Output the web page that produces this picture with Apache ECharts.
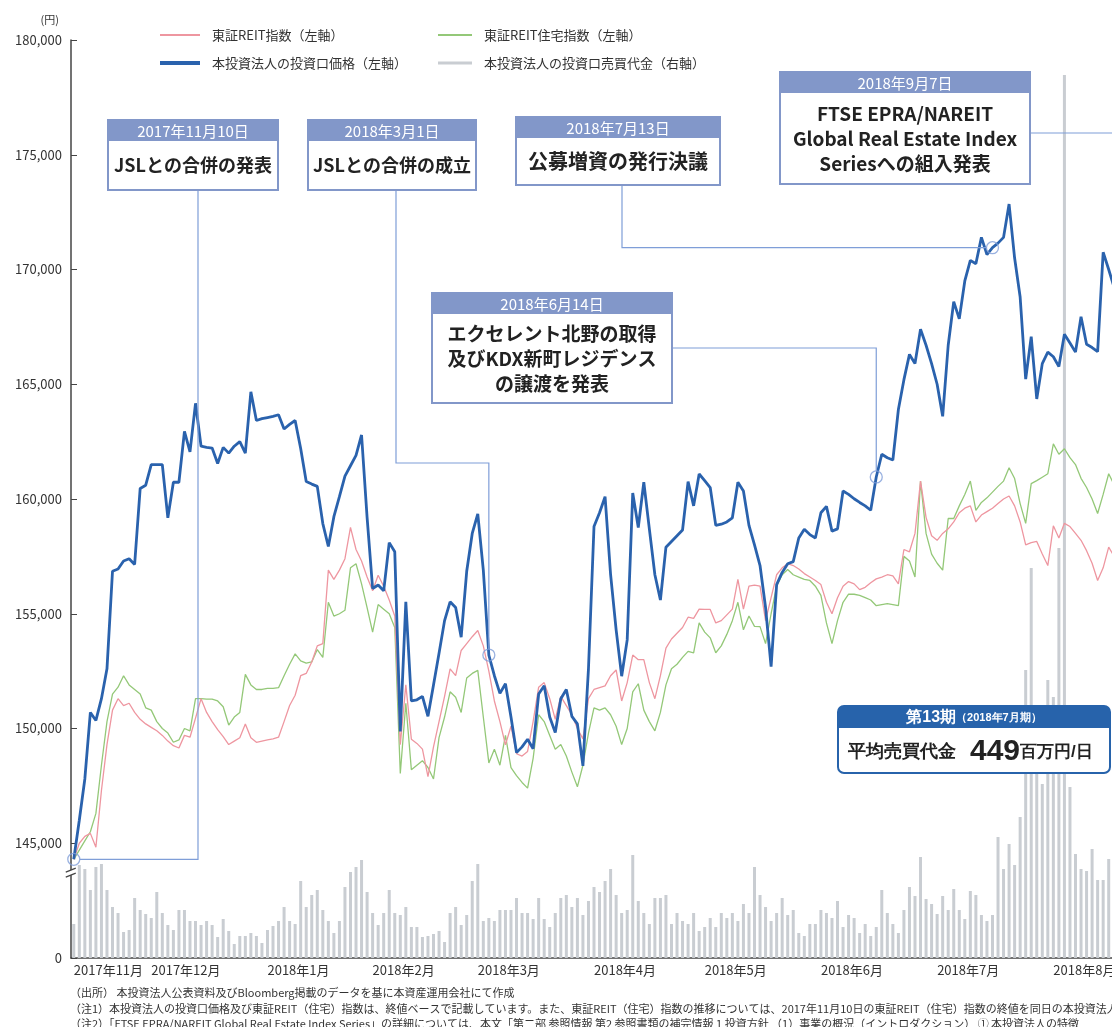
<!DOCTYPE html>
<html>
<head>
<meta charset="utf-8">
<script src="https://cdn.jsdelivr.net/npm/echarts@6/dist/echarts.min.js"></script>
<style>
  html, body { margin: 0; padding: 0; background: #fff; }
  #chart { width: 1112px; height: 1027px; }
</style>
</head>
<body>
<div id="chart"></div>
<script>
const FONT = "'Noto Sans CJK JP', 'Noto Sans', sans-serif";

// 営業日（2017/11/10〜2018/8/16）
const START = '2017-11-10';
const END = '2018-08-16';
const HOLIDAYS = ['2017-11-23', '2018-01-01', '2018-01-02', '2018-01-03', '2018-01-08',
  '2018-02-12', '2018-03-21', '2018-04-30', '2018-05-03', '2018-05-04', '2018-07-16'];

// 本投資法人の投資口価格（円）
const price = [
  144300, 146000, 147800, 150700, 150350, 151300, 152600, 156850, 156950, 157300,
  157400, 157150, 160460, 160600, 161500, 161500, 161500, 159180, 160730, 160730,
  162950, 162050, 164170, 162300, 162250, 162220, 161550, 162250, 162000, 162300,
  162500, 162000, 164670, 163420, 163500, 163550, 163600, 163670, 163050, 163250,
  163420, 162200, 160760, 160650, 160550, 158930, 157930, 159230, 160100, 161000,
  161450, 161900, 162790, 159200, 156100, 156250, 156000, 158100, 157700, 149870,
  155520, 151200, 151250, 151400, 150530, 151900, 153280, 154700, 155520, 155270,
  153980, 156850, 158500, 159350, 156900, 153200, 152300, 151530, 151950, 150500,
  148950, 149200, 149530, 149120, 151500, 151860, 150500, 149820, 151300, 151700,
  150530, 150200, 148370, 152600, 158800, 159400, 160100, 156700, 154300, 152280,
  153860, 160260, 158760, 160730, 158700, 156700, 155600, 157900, 158150, 158400,
  158650, 160760, 159700, 161090, 160800, 160500, 158850, 158900, 159000, 159180,
  160730, 160350, 158850, 158000, 157100, 155270, 152700, 156270, 156800, 157180,
  157270, 158300, 158680, 158450, 158300, 159400, 159680, 158600, 158700, 160350,
  160200, 160010, 159850, 159700, 159510, 160960, 161950, 161800, 161700, 163900,
  165200, 166300, 165900, 167400, 166700, 165900, 165000, 163600, 166700, 168600,
  167850, 169500, 170400, 170250, 171400, 170650, 170950, 171150, 171400, 172850,
  170500, 168800, 165225, 167070, 164360, 165900, 166400, 166200, 165770, 167180,
  166800, 166400, 167940, 166740, 166600, 166420, 170750, 170000, 169200
];

// 東証REIT指数（指数化）
const reit = [
  144300, 145000, 145300, 145430, 144830, 147300, 149300, 150800, 151300, 151000,
  151100, 150700, 150400, 150200, 150050, 149900, 149700, 149450, 149250, 149150,
  149700, 149620, 150450, 151300, 150700, 150300, 149950, 149650, 149300, 149450,
  149600, 150200, 149600, 149400, 149450, 149500, 149550, 149620, 150300, 151000,
  151450, 152300, 152400, 152900, 153600, 153700, 156900, 156500, 156900, 157400,
  158760, 157800, 157300, 156600, 156000, 156680, 156200, 155600, 154900, 149300,
  151900, 149530, 149350, 149100, 147900, 149200, 150300, 151400, 152600, 152300,
  153400, 153700, 154000, 154270, 153600, 152500, 151200, 150300, 149285, 150100,
  148900, 148800, 149000, 150300, 151800, 152000, 151300, 150400, 151400, 151000,
  150600, 150000, 149550, 151300, 151700, 151780, 151860, 152300, 152550, 151200,
  152000, 153200, 153000, 153000, 152000, 151300, 152300, 153500, 153900, 154150,
  154400, 154850, 154800, 155200, 155190, 155190, 154600, 154700, 154950, 155200,
  156500, 155200, 156200, 156250, 156200, 154700, 155700, 156700, 157000, 157180,
  157100, 156950, 156750, 156600, 156450, 156270, 155500, 155000, 155700, 156200,
  156400, 156300, 156050, 156150, 156350, 156520, 156600, 156700, 156650, 156300,
  157800, 157700, 158500, 160780, 159200, 158400, 158200, 158500, 158700, 159000,
  159400, 159600, 159700, 159000, 159300, 159450, 159600, 159800, 160000, 160130,
  159700, 159000, 158000, 158100, 158150, 157600, 157100, 158830, 158300, 158940,
  158800, 158500, 158200, 157750, 157200, 156450, 157000, 157900, 157500
];

// 東証REIT住宅指数（指数化）
const resi = [
  144300, 144700, 145100, 145500, 146300, 148400, 150300, 151500, 151800, 152300,
  151900, 151700, 151500, 150900, 150800, 150300, 150000, 149800, 149400, 149500,
  150000, 149900, 151300, 151300, 151280, 151280, 151200, 150950, 150150, 150500,
  150700, 152360, 151900, 151700, 151700, 151750, 151750, 151780, 152300, 152800,
  153250, 152950, 152850, 152900, 153440, 153100, 155500, 154900, 155000, 155150,
  157000, 157180, 156300, 155270, 154200, 155400, 155200, 155000, 154400, 148040,
  151100, 148200, 148400, 148600, 148300, 147800, 149600, 150500, 151600, 151360,
  150700, 152200, 152400, 152530, 150500, 148500, 149100, 148400, 149700, 148300,
  147950, 147650, 147400, 148700, 150600, 150300, 149700, 149100, 149300, 148800,
  148100, 147460, 148400, 149800, 150900, 150800, 150900, 150600, 150100, 149300,
  150000, 151600, 151950, 150800, 150300, 149900, 150700, 151900, 152600, 152800,
  153100, 153360, 153300, 154600, 154200, 153950, 153300, 153600, 154100, 154700,
  155500, 154300, 154900, 154450, 154440, 153700, 155000, 156200, 156700, 156930,
  156700, 156600, 156500, 156450, 156200, 155800, 154600, 153700, 154700, 155500,
  155850, 155850, 155800, 155700, 155600, 155350, 155400, 155440, 155400, 155350,
  157500, 157300, 156600, 160780, 158500, 157600, 157200, 156900, 159150, 159150,
  159700, 160200, 160780, 159500, 159850, 160050, 160300, 160550, 160780, 161360,
  160890, 159800, 158940, 160670, 160800, 160950, 161100, 162400, 161950, 162190,
  161800, 161500, 160900, 160500, 160000, 159370, 160200, 161100, 160600
];

// 本投資法人の投資口売買代金（百万円）
const volume = [
  272, 744, 712, 544, 728, 752, 544, 408, 360, 208,
  224, 480, 384, 352, 320, 528, 360, 264, 224, 384,
  384, 296, 296, 264, 296, 264, 168, 312, 216, 112,
  176, 176, 200, 176, 120, 224, 256, 296, 408, 296,
  272, 616, 408, 504, 544, 384, 296, 200, 296, 568,
  688, 728, 784, 528, 360, 264, 360, 544, 360, 344,
  408, 248, 248, 168, 176, 192, 216, 128, 360, 408,
  264, 344, 616, 752, 296, 320, 296, 384, 384, 384,
  480, 360, 360, 312, 480, 312, 248, 360, 480, 504,
  408, 480, 344, 456, 568, 528, 616, 712, 504, 360,
  384, 824, 456, 360, 272, 480, 480, 504, 272, 360,
  296, 272, 360, 216, 248, 320, 248, 360, 320, 360,
  296, 432, 360, 728, 504, 408, 296, 360, 480, 344,
  384, 200, 176, 272, 272, 384, 360, 320, 456, 248,
  344, 320, 200, 272, 176, 248, 544, 360, 272, 200,
  384, 568, 496, 808, 472, 432, 352, 496, 384, 552,
  384, 312, 536, 504, 344, 296, 344, 968, 712, 912,
  744, 1128, 2304, 3120, 2008, 1392, 2224, 2088, 3280, 7064,
  1368, 832, 712, 696, 872, 624, 624, 792, 792
];

// イベント（営業日インデックス）
const eventIdx = [0, 75, 145, 166];

const NAME_REIT = '東証REIT指数（左軸）';
const NAME_RESI = '東証REIT住宅指数（左軸）';
const NAME_PRICE = '本投資法人の投資口価格（左軸）';
const NAME_VOL = '本投資法人の投資口売買代金（右軸）';

function tradingDays() {
  const out = [];
  const d = new Date(START + 'T00:00:00Z');
  const end = new Date(END + 'T00:00:00Z');
  while (d <= end) {
    const iso = d.toISOString().slice(0, 10);
    const wd = d.getUTCDay();
    if (wd !== 0 && wd !== 6 && !HOLIDAYS.includes(iso)) {
      out.push(`${d.getUTCFullYear()}/${d.getUTCMonth() + 1}/${d.getUTCDate()}`);
    }
    d.setUTCDate(d.getUTCDate() + 1);
  }
  return out;
}

const days = tradingDays();
const monthStart = days.map((s, i) => i === 0 || s.split('/')[1] !== days[i - 1].split('/')[1]);

const LINE_C = '#7f9ed8';
const BOX_C = '#8297c9';

const option = {
  animation: false,
  textStyle: { fontFamily: FONT },
  grid: { left: 71, right: -5, top: 40, bottom: 69, outerBoundsMode: 'none' },
  legend: [
    {
      left: 160, top: 27, orient: 'vertical', padding: 0, itemGap: 12,
      itemWidth: 40, itemHeight: 4,
      textStyle: { fontSize: 13, color: '#333', lineHeight: 16, padding: [0, 0, 0, 7] },
      data: [
        { name: NAME_REIT, icon: 'path://M0,0h40v2h-40z' },
        { name: NAME_PRICE, icon: 'path://M0,0h40v4h-40z' },
      ],
    },
    {
      left: 438, top: 27, orient: 'vertical', padding: 0, itemGap: 12,
      itemWidth: 34, itemHeight: 4,
      textStyle: { fontSize: 13, color: '#333', lineHeight: 16, padding: [0, 0, 0, 7] },
      data: [
        { name: NAME_RESI, icon: 'path://M0,0h34v2h-34z' },
        { name: NAME_VOL, icon: 'path://M0,0h34v3h-34z' },
      ],
    },
  ],
  xAxis: {
    type: 'category',
    data: days,
    boundaryGap: true,
    axisLine: { lineStyle: { color: '#444', width: 1.5 } },
    axisTick: { interval: (i) => monthStart[i], length: 3, lineStyle: { color: '#444' } },
    axisLabel: {
      interval: (i) => monthStart[i],
      align: 'left',
      margin: 6,
      fontSize: 13,
      color: '#333',
      formatter: (v) => {
        const p = v.split('/');
        return `${p[0]}年${p[1]}月`;
      },
    },
    splitLine: { show: false },
  },
  yAxis: [
    {
      type: 'value',
      min: 140000,
      max: 180000,
      interval: 5000,
      name: '(円)',
      nameLocation: 'end',
      nameGap: 15,
      nameTextStyle: { fontSize: 11, color: '#333', align: 'right', padding: [0, 12, 0, 0] },
      axisLine: { show: true, lineStyle: { color: '#444', width: 1.5 } },
      axisTick: { show: true, inside: true, length: 6, lineStyle: { color: '#444' } },
      axisLabel: {
        fontSize: 13,
        color: '#333',
        margin: 9,
        formatter: (v) => (v === 140000 ? '0' : v.toLocaleString('en-US')),
      },
      splitLine: { show: false },
    },
    {
      type: 'value',
      min: 0,
      max: 7344,
      show: false,
      splitLine: { show: false },
    },
  ],
  series: [
    {
      name: NAME_VOL, type: 'bar', yAxisIndex: 1, data: volume,
      barWidth: 3, itemStyle: { color: '#c9cdd2' }, z: 1,
    },
    {
      name: NAME_RESI, type: 'line', data: resi, symbol: 'none',
      lineStyle: { color: '#94c878', width: 1.3 }, itemStyle: { color: '#94c878' }, z: 3,
    },
    {
      name: NAME_REIT, type: 'line', data: reit, symbol: 'none',
      lineStyle: { color: '#ee96a0', width: 1.3 }, itemStyle: { color: '#ee96a0' }, z: 4,
    },
    {
      name: NAME_PRICE, type: 'line', data: price, symbol: 'none',
      lineStyle: { color: '#2a62ad', width: 2.8 }, itemStyle: { color: '#2a62ad' }, z: 5,
    },
    {
      name: 'event', type: 'scatter', z: 6, symbolSize: 12,
      data: eventIdx.map((i) => [i, price[i]]),
      itemStyle: { color: 'rgba(0,0,0,0)', borderColor: LINE_C, borderWidth: 1.3 },
    },
  ],
};

const chart = echarts.init(document.getElementById('chart'));
chart.setOption(option);

// 注記ボックス
function noteBox(x, y, w, h, head, body, size) {
  const hh = 21;
  return [
    { type: 'rect', z: 60, shape: { x, y, width: w, height: h }, style: { fill: '#fff', stroke: BOX_C, lineWidth: 2 } },
    { type: 'rect', z: 61, shape: { x, y, width: w, height: hh }, style: { fill: BOX_C } },
    {
      type: 'text', z: 62,
      style: { text: head, x: x + w / 2, y: y + hh / 2 + 1, align: 'center', verticalAlign: 'middle', fill: '#fff', fontSize: 15, fontFamily: FONT },
    },
    {
      type: 'text', z: 62,
      style: {
        text: body, x: x + w / 2, y: y + hh + (h - hh) / 2, align: 'center', verticalAlign: 'middle',
        fill: '#222', fontSize: size, fontWeight: 'bold', lineHeight: 25, fontFamily: FONT,
      },
    },
  ];
}

function leader(points) {
  return { type: 'polyline', z: 50, shape: { points }, style: { stroke: LINE_C, lineWidth: 1.2, fill: null } };
}

const pt = eventIdx.map((i) => chart.convertToPixel({ xAxisIndex: 0, yAxisIndex: 0 }, [i, price[i]]));
const axisX = chart.convertToPixel({ xAxisIndex: 0, yAxisIndex: 0 }, [0, 140000])[0] - 3;
const breakY = chart.convertToPixel({ yAxisIndex: 0 }, 143700);
const R = 6;

const graphic = [
  ...noteBox(108, 120, 170, 70, '2017年11月10日', 'JSLとの合併の発表', 18),
  ...noteBox(308, 120, 168, 70, '2018年3月1日', 'JSLとの合併の成立', 18),
  ...noteBox(516, 117, 204, 68, '2018年7月13日', '公募増資の発行決議', 20),
  ...noteBox(780, 72, 250, 112, '2018年9月7日', 'FTSE EPRA/NAREIT\nGlobal Real Estate Index\nSeriesへの組入発表', 19),
  ...noteBox(432, 293, 240, 110, '2018年6月14日', 'エクセレント北野の取得\n及びKDX新町レジデンス\nの譲渡を発表', 19),
  leader([[198, 190], [198, pt[0][1]], [pt[0][0] + R, pt[0][1]]]),
  leader([[396, 190], [396, 463], [pt[1][0], 463], [pt[1][0], pt[1][1] - R]]),
  leader([[672, 348], [pt[2][0], 348], [pt[2][0], pt[2][1] - R]]),
  leader([[622, 185], [622, pt[3][1]], [pt[3][0] - R, pt[3][1]]]),
  leader([[1030, 133], [1112, 133]]),
  // 軸の省略記号
  { type: 'rect', z: 70, shape: { x: axisX - 5, y: breakY - 3, width: 10, height: 5 }, style: { fill: '#fff' } },
  { type: 'line', z: 71, shape: { x1: axisX - 5, y1: breakY - 1, x2: axisX + 5, y2: breakY - 5 }, style: { stroke: '#444', lineWidth: 1.2 } },
  { type: 'line', z: 71, shape: { x1: axisX - 5, y1: breakY + 4, x2: axisX + 5, y2: breakY }, style: { stroke: '#444', lineWidth: 1.2 } },
  // 平均売買代金
  { type: 'rect', z: 60, shape: { x: 838, y: 706, width: 272, height: 67, r: 6 }, style: { fill: '#fff', stroke: '#2763ab', lineWidth: 2 } },
  { type: 'rect', z: 61, shape: { x: 838, y: 706, width: 272, height: 22, r: [6, 6, 0, 0] }, style: { fill: '#2763ab' } },
  {
    type: 'text', z: 62,
    style: {
      text: '{a|第13期}{b|（2018年7月期）}', x: 974, y: 718, align: 'center', verticalAlign: 'middle',
      fill: '#fff', fontFamily: FONT,
      rich: { a: { fontSize: 16, fontWeight: 'bold', fill: '#fff' }, b: { fontSize: 11, fontWeight: 'bold', fill: '#fff' } },
    },
  },
  {
    type: 'text', z: 62,
    style: {
      text: '{a|平均売買代金}{s| }{b|449}{c|百万円/日}', x: 848, y: 752, align: 'left', verticalAlign: 'middle',
      fill: '#222', fontFamily: FONT,
      rich: {
        a: { fontSize: 18, fontWeight: 'bold', fill: '#222' },
        s: { fontSize: 18, width: 14 },
        b: { fontSize: 30, fontWeight: 'bold', fill: '#222' },
        c: { fontSize: 17, fontWeight: 'bold', fill: '#222' },
      },
    },
  },
  // 出所・注記
  { type: 'text', z: 62, style: { text: '（出所） 本投資法人公表資料及びBloomberg掲載のデータを基に本資産運用会社にて作成', x: 70, y: 993, verticalAlign: 'middle', fill: '#333', fontSize: 11, fontFamily: FONT } },
  { type: 'text', z: 62, style: { text: '（注1）本投資法人の投資口価格及び東証REIT（住宅）指数は、終値ベースで記載しています。また、東証REIT（住宅）指数の推移については、2017年11月10日の東証REIT（住宅）指数の終値を同日の本投資法人の', x: 70, y: 1009, verticalAlign: 'middle', fill: '#333', fontSize: 11, fontFamily: FONT } },
  { type: 'text', z: 62, style: { text: '（注2）「FTSE EPRA/NAREIT Global Real Estate Index Series」の詳細については、本文「第二部 参照情報 第2 参照書類の補完情報 1 投資方針 （1）事業の概況（イントロダクション） ① 本投資法人の特徴', x: 70, y: 1024, verticalAlign: 'middle', fill: '#333', fontSize: 11, fontFamily: FONT } },
];

chart.setOption({ graphic });
</script>
</body>
</html>
